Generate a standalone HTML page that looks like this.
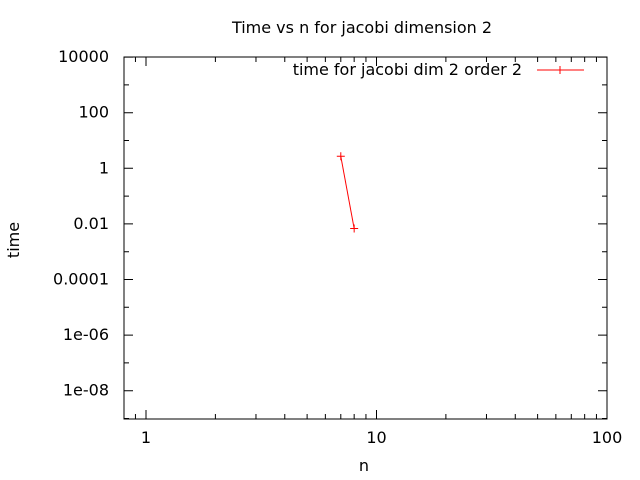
<!DOCTYPE html>
<html><head><meta charset="utf-8"><style>body{margin:0;background:#fff}svg{display:block;font-family:"DejaVu Sans","Liberation Sans",sans-serif}</style></head>
<body>
<svg id="c" width="640" height="480"></svg>
<script>
const xs=[7,8];
const ys=[2.7,0.0068];
const xTicks=[1,10,100];
const xTickLabels=["1","10","100"];
const yTicks=[10000,100,1,0.01,0.0001,1e-6,1e-8];
const yTickLabels=["10000","100","1","0.01","0.0001","1e-06","1e-08"];
const L=124,R=607,T=57,B=419;
const X=v=>146+Math.log10(v)*230.5;
const Y=v=>168.3-Math.log10(v)*27.8;
const s=document.getElementById('c');const NS='http://www.w3.org/2000/svg';
function mk(t,a,txt){const e=document.createElementNS(NS,t);for(const k in a)e.setAttribute(k,a[k]);if(txt!=null)e.textContent=txt;s.appendChild(e);return e;}
let e;
e=mk('text',{x:362,y:33,'text-anchor':'middle','font-size':16},'Time vs n for jacobi dimension 2');


e=mk('text',{x:364,y:471,'text-anchor':'middle','font-size':16},'n');


e=mk('text',{x:19,y:240,'text-anchor':'middle','font-size':16,transform:'rotate(-90 19 240)'},'time');


let tk='';
for(let d=0;d<2;d++)for(let m=1;m<10;m++){const v=Math.pow(10,d)*m;const x=X(v);const len=m===1?9:5;tk+=`M${x} ${B}v${-len}M${x} ${T}v${len}`;}
{const x=X(0.9);tk+=`M${x} ${B}v-5M${x} ${T}v5`;}
for(let p=-9;p<=4;p++){const y=Y(Math.pow(10,p));if(y<T-1||y>B+1)continue;const len=(p%2===0)?9:5;tk+=`M${L} ${y}h${len}M${R} ${y}h${-len}`;}
e=mk('path',{d:tk,stroke:'#000','stroke-width':1,fill:'none'});


e=mk('rect',{x:L,y:T,width:R-L,height:B-T,fill:'none',stroke:'#000','stroke-width':1});


xTicks.forEach((v,i)=>{const t=mk('text',{x:X(v),y:443,'text-anchor':'middle','font-size':16},xTickLabels[i]);

});
yTicks.forEach((v,i)=>{const t=mk('text',{x:109,y:Y(v)+5,'text-anchor':'end','font-size':16},yTickLabels[i]);

});
e=mk('polyline',{points:xs.map((v,i)=>X(v)+','+Y(ys[i])).join(' '),fill:'none',stroke:'#f00','stroke-width':1});


xs.forEach((v,i)=>{const x=X(v),y=Y(ys[i]);const p=mk('path',{d:`M${x-4} ${y}h8M${x} ${y-4}v8`,stroke:'#f00','stroke-width':1});

});
e=mk('text',{x:522,y:75,'text-anchor':'end','font-size':16},'time for jacobi dim 2 order 2');


e=mk('path',{d:'M537 70h47M560 66v8',stroke:'#f00','stroke-width':1});


</script>
</body></html>
